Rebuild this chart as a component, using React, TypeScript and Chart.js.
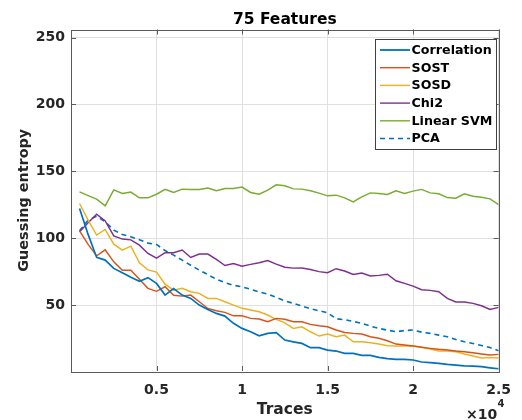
import React, { useEffect, useRef } from 'react';
import { Chart, registerables } from 'chart.js';

Chart.register(...registerables);

const traces = [
  500, 1000, 1500, 2000, 2500, 3000, 3500, 4000, 4500, 5000,
  5500, 6000, 6500, 7000, 7500, 8000, 8500, 9000, 9500, 10000,
  10500, 11000, 11500, 12000, 12500, 13000, 13500, 14000, 14500, 15000,
  15500, 16000, 16500, 17000, 17500, 18000, 18500, 19000, 19500, 20000,
  20500, 21000, 21500, 22000, 22500, 23000, 23500, 24000, 24500, 25000,
];

const correlation = [
  122.4, 103, 85.8, 83.8, 77.6, 74.3, 71, 68, 70.7, 66.4,
  57.7, 62.5, 57.7, 55.2, 50.2, 47, 44, 42, 36.6, 32.8,
  30.3, 27.3, 29.1, 29.6, 24.1, 22.8, 21.6, 18.4, 18.4, 16.6,
  15.9, 14.2, 14.2, 12.7, 12.7, 11.2, 10.2, 9.7, 9.7, 9.2,
  7.7, 7.2, 6.7, 5.9, 5.4, 4.9, 4.7, 4.2, 3.4, 2.7,
];

const sost = [
  105.7, 95.5, 87, 91.5, 82.5, 76.3, 76.3, 69.5, 62.7, 60.5,
  63.9, 57.5, 56.9, 57.7, 52.7, 47.7, 46, 44.8, 42.2, 42.2,
  40.3, 39.8, 37.8, 40.3, 39.6, 37.8, 37.8, 35.8, 34.8, 34,
  31.6, 29.8, 29.1, 28.6, 26.6, 25.4, 23.6, 21.1, 20.4, 19.6,
  18.7, 17.9, 17.2, 16.7, 15.9, 15.4, 14.6, 13.7, 12.9, 13.4,
];

const sosd = [
  126.1, 113.7, 102.5, 106.7, 95.7, 91.3, 94.2, 81.8, 76.5, 74.8,
  65.8, 61.4, 62.7, 60.2, 59, 55.2, 55.2, 52.7, 50.2, 47.8,
  46.5, 45.2, 42.8, 39.6, 37, 32.8, 34, 30.3, 27.1, 28.6,
  26.6, 27.8, 22.8, 22.8, 22.1, 21.1, 19.9, 19.6, 19.6, 19.6,
  18.7, 17.4, 15.9, 15.9, 15.4, 13.7, 12.2, 10.7, 11, 10.7,
];

const chi2 = [
  104.9, 111.7, 118.1, 113.1, 101.9, 99.5, 98.9, 95, 88.8, 85.3,
  89.3, 89.3, 91.3, 85.8, 88.3, 88.3, 84.3, 79.8, 81.3, 79.3,
  80.6, 81.8, 83.5, 80.8, 78.5, 77.8, 77.9, 76.8, 75.2, 74.4,
  77.4, 75.7, 73.1, 74.2, 72, 72.4, 73.3, 68.4, 66.4, 64.4,
  61.7, 61.2, 60.2, 55.2, 52.5, 52.5, 51.5, 49.7, 47, 48.5,
];

const linearSvm = [
  134.8, 132, 129.3, 124.3, 136.3, 133.6, 134.6, 130.3, 130.3, 133,
  136.6, 134.3, 136.8, 136.6, 136.6, 137.6, 135.6, 137.3, 137.3, 138.3,
  134.3, 133, 136, 140, 139.3, 137, 136.8, 135.6, 133.8, 131.8,
  132.3, 130.3, 127.3, 131, 134, 133.6, 132.8, 135.6, 133.6, 135.3,
  136.6, 134, 133.3, 130.5, 130, 133.3, 131.5, 130.8, 129.5, 125.3,
];

const pca = [
  105.7, 113.7, 116.6, 112.4, 106.2, 103, 101.2, 99, 96.5, 95.5,
  91, 87.5, 83.8, 80, 76.3, 73, 69.5, 67, 65, 63.9,
  62, 60, 58.5, 56, 53.4, 51.5, 49.5, 47.5, 46, 44.5,
  40, 39.3, 38, 36.6, 34.5, 32.8, 31.5, 30.3, 31.2, 31.6,
  30, 29.1, 27.8, 26.6, 24.5, 22.8, 21.5, 20, 18.5, 16.1,
];

const seriesNames = ['Correlation', 'SOST', 'SOSD', 'Chi2', 'Linear SVM', 'PCA'];
const seriesColors = ['#0072BD', '#D95319', '#EDB120', '#7E2F8E', '#77AC30', '#0072BD'];
const xTickValues = [5000, 10000, 15000, 20000, 25000];
const yTickValues = [50, 100, 150, 200, 250];
const xTickLabels = ['0.5', '1', '1.5', '2', '2.5'];

const titleText = '75 Features';
const xLabel = 'Traces';
const yLabel = 'Guessing entropy';

const FONT = '"DejaVu Sans"';

export default function App() {
  const ref = useRef<HTMLCanvasElement>(null);

  useEffect(() => {
    const values = [correlation, sost, sosd, chi2, linearSvm, pca];
    const widths = [1.7, 1.45, 1.45, 1.45, 1.45, 1.6];
    const datasets = values.map((vals, k) => ({
      label: seriesNames[k],
      data: traces.map((x, i) => ({ x, y: vals[i] })),
      borderColor: seriesColors[k],
      backgroundColor: seriesColors[k],
      borderWidth: widths[k],
      borderDash: k === 5 ? [5, 4] : [],
      pointRadius: 0,
      tension: 0,
      fill: false,
    }));

    const overlay = {
      id: 'overlay',
      afterDatasetsDraw(chart: any) {
        const ctx = chart.ctx;
        const a = chart.chartArea;
        const xs = chart.scales.x;
        const ys = chart.scales.y;
        ctx.save();
        ctx.strokeStyle = '#5a5a5a';
        ctx.lineWidth = 1;
        ctx.strokeRect(Math.round(a.left) + 0.5, Math.round(a.top) + 0.5, Math.round(a.right - a.left), Math.round(a.bottom - a.top));
        ctx.beginPath();
        const tl = 5;
        xTickValues.forEach((v) => {
          const px = Math.round(xs.getPixelForValue(v)) + 0.5;
          ctx.moveTo(px, a.bottom);
          ctx.lineTo(px, a.bottom - tl);
          ctx.moveTo(px, a.top);
          ctx.lineTo(px, a.top + tl);
        });
        yTickValues.forEach((v) => {
          const py = Math.round(ys.getPixelForValue(v)) + 0.5;
          ctx.moveTo(a.left, py);
          ctx.lineTo(a.left + tl, py);
          ctx.moveTo(a.right, py);
          ctx.lineTo(a.right - tl, py);
        });
        ctx.stroke();
        ctx.restore();
      },
      afterDraw(chart: any) {
        const ctx = chart.ctx;
        const a = chart.chartArea;
        const cx = (a.left + a.right) / 2;
        ctx.save();
        // title
        ctx.fillStyle = '#000';
        ctx.textAlign = 'center';
        ctx.textBaseline = 'alphabetic';
        ctx.font = `bold 15.5px ${FONT}`;
        ctx.fillText(titleText, cx, 24);
        // axis labels
        ctx.fillStyle = '#262626';
        ctx.fillText(xLabel, cx, 413.5);
        ctx.save();
        ctx.font = `bold 14.4px ${FONT}`;
        ctx.translate(28, (a.top + a.bottom) / 2);
        ctx.rotate(-Math.PI / 2);
        ctx.fillText(yLabel, 0, 0);
        ctx.restore();
        // exponent
        ctx.textAlign = 'left';
        ctx.font = `bold 14px ${FONT}`;
        ctx.fillText('\u00d710', 466, 419);
        ctx.font = `bold 10px ${FONT}`;
        ctx.fillText('4', 497.5, 407);
        // legend
        const bx = 375, by = 39, bw = 121, bh = 110;
        ctx.fillStyle = '#ffffff';
        ctx.fillRect(bx, by, bw, bh);
        ctx.strokeStyle = '#404040';
        ctx.lineWidth = 1;
        ctx.strokeRect(bx + 0.5, by + 0.5, bw, bh);
        ctx.font = `bold 12.7px ${FONT}`;
        ctx.textBaseline = 'middle';
        seriesNames.forEach((name, k) => {
          const yy = 50 + k * 17.7;
          ctx.strokeStyle = seriesColors[k];
          ctx.lineWidth = k === 0 ? 1.8 : 1.4;
          ctx.setLineDash(k === 5 ? [5, 4] : []);
          ctx.beginPath();
          ctx.moveTo(380, yy);
          ctx.lineTo(410, yy);
          ctx.stroke();
          ctx.setLineDash([]);
          ctx.fillStyle = '#000';
          ctx.fillText(name, 411.5, yy + 0.5);
        });
        ctx.restore();
      },
    };

    const chart = new Chart(ref.current as HTMLCanvasElement, {
      type: 'line',
      data: { datasets: datasets as any },
      options: {
        animation: false,
        responsive: false,
        devicePixelRatio: 1,
        parsing: false,
        layout: { padding: { left: 0, top: 29.5, right: 16, bottom: 0 } },
        plugins: { legend: { display: false }, title: { display: false }, tooltip: { enabled: false } },
        scales: {
          x: {
            type: 'linear',
            min: 0,
            max: 25000,
            afterBuildTicks: (s: any) => {
              s.ticks = xTickValues.map((v) => ({ value: v }));
            },
            afterFit: (s: any) => {
              s.height = 49;
            },
            ticks: {
              autoSkip: false,
              maxRotation: 0,
              padding: 11,
              color: '#262626',
              font: { family: 'DejaVu Sans', size: 14, weight: 'bold' },
              callback: (v: any) => {
                const idx = xTickValues.indexOf(Number(v));
                return idx >= 0 ? xTickLabels[idx] : '';
              },
            },
            grid: { color: '#e0e0e0', lineWidth: 1, drawTicks: false },
            border: { display: false },
          },
          y: {
            type: 'linear',
            min: 1,
            max: 256,
            afterBuildTicks: (s: any) => {
              s.ticks = yTickValues.map((v) => ({ value: v }));
            },
            afterFit: (s: any) => {
              s.width = 71;
            },
            ticks: {
              autoSkip: false,
              padding: 6,
              color: '#262626',
              font: { family: 'DejaVu Sans', size: 14, weight: 'bold' },
              callback: (v: any) => String(v),
            },
            grid: { color: '#e0e0e0', lineWidth: 1, drawTicks: false },
            border: { display: false },
          },
        },
      },
      plugins: [overlay],
    });
    return () => chart.destroy();
  }, []);

  return (
    <div style={{ position: 'fixed', left: 0, top: 0, width: 522, height: 420, background: '#ffffff' }}>
      <canvas ref={ref} width={522} height={420} style={{ width: 522, height: 420, display: 'block' }} />
    </div>
  );
}
